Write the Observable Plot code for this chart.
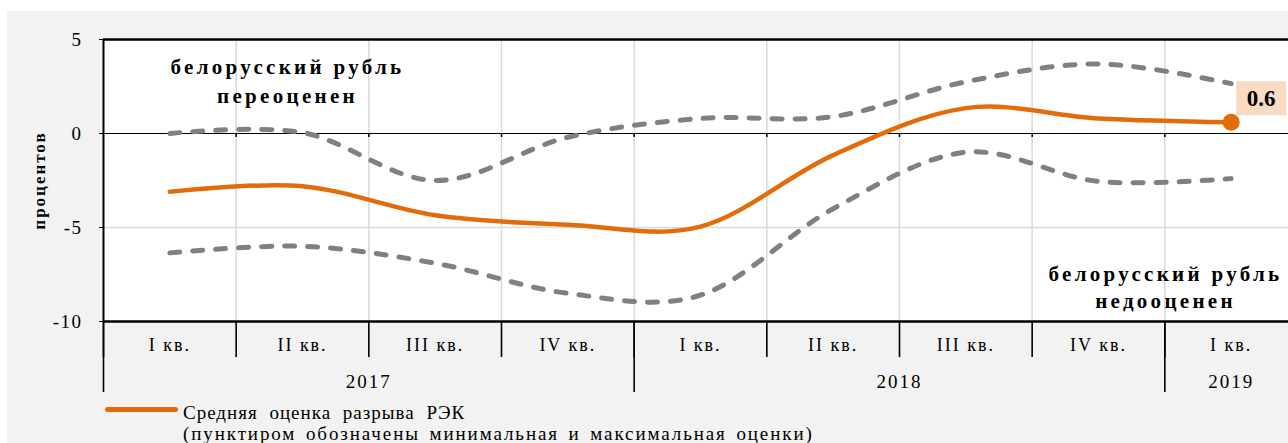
<!DOCTYPE html>
<html>
<head>
<meta charset="utf-8">
<script src="https://cdn.jsdelivr.net/npm/d3@7"></script>
<script src="https://cdn.jsdelivr.net/npm/@observablehq/plot@0.6"></script>
<style>
  html, body { margin: 0; padding: 0; background: #fff; overflow: hidden; width: 1288px; height: 443px; }
  #bg { position: absolute; left: 7px; top: 11px; right: 0; bottom: 0; background: #f2f2f2; }
  #chart { position: absolute; left: 0; top: 0; }
  #legend { position: absolute; left: 105px; top: 402px; font-family: "Liberation Serif", "Times New Roman", serif; font-size: 19px; color: #000; }
  #legend .row { position: relative; height: 21px; line-height: 21px; white-space: nowrap; }
  #legend .sw { position: absolute; left: 0; top: 5px; width: 73px; height: 5px; background: #e36c09; border-radius: 2.5px; }
  #legend .txt { margin-left: 78px; }
  #legend .l1 { letter-spacing: 1.0px; word-spacing: 6px; }
  #legend .l2 { letter-spacing: 1.9px; word-spacing: 3px; }
</style>
</head>
<body>
<div id="bg"></div>
<div id="chart"></div>
<div id="legend"></div>
<script>
// ---- data ----
const quarters = ["I кв.", "II кв.", "III кв.", "IV кв.", "I кв.", "II кв.", "III кв.", "IV кв.", "I кв."];
const years    = ["2017", "2017", "2017", "2017", "2018", "2018", "2018", "2018", "2019"];
const meanGap  = [-3.1, -2.8, -4.35, -4.85, -4.95, -1.15, 1.35, 0.8, 0.6];
const maxGap   = [0.0, 0.05, -2.5, -0.2, 0.8, 0.9, 2.75, 3.7, 2.65];
const minGap   = [-6.35, -6.0, -6.9, -8.5, -8.6, -4.0, -1.0, -2.55, -2.4];
const yTicks   = [5, 0, -5, -10];
const yTitle   = "процентов";
const overText  = "белорусский рубль\nпереоценен";
const underText = "белорусский рубль\nнедооценен";
const legendLine1 = "Средняя оценка разрыва РЭК";
const legendLine2 = "(пунктиром обозначены минимальная и максимальная оценки)";

// ---- derived tables ----
const rows = quarters.map((q, i) => ({i, q, year: years[i], mean: meanGap[i], max: maxGap[i], min: minGap[i]}));
const n = quarters.length;
const boundaries = d3.range(n + 1).map(k => k - 0.5);
const inner = boundaries.slice(1, -1);
const groups = d3.groups(rows, d => d.year);
const yearBoundaries = groups.map(([, g]) => g[0].i - 0.5).concat([n - 0.5]);
const yearCenters = groups.map(([, g]) => d3.mean(g, d => d.i));
const yearLabel = new Map(groups.map(([y, g]) => [d3.mean(g, d => d.i), y]));

const orange = "#e36c09";
const grey = "#808080";
const boxSymbol = {draw(ctx) { ctx.rect(-25, -17, 50, 34); }};

const plot = Plot.plot({
  width: 1300,
  height: 400,
  marginLeft: 103,
  marginRight: 3,
  marginTop: 39,
  marginBottom: 79,
  style: {background: "transparent", maxWidth: "none", overflow: "visible",
          fontFamily: "'Liberation Serif', 'Times New Roman', serif", fontSize: "18px", color: "#000"},
  x: {type: "linear", domain: [-0.5, n - 0.5], label: null},
  y: {domain: [-10, 5], label: null},
  marks: [
    Plot.frame({fill: "white", stroke: null}),
    Plot.gridX(inner, {stroke: "#d9d9d9", strokeOpacity: 1, strokeWidth: 1.5}),
    Plot.gridY([-5], {stroke: "#d9d9d9", strokeOpacity: 1, strokeWidth: 1.5}),
    Plot.ruleY([0], {stroke: "#000", strokeWidth: 1.2}),
    Plot.ruleX(inner, {y1: 0, y2: 0, insetBottom: -4, stroke: "#000", strokeWidth: 1.5}),
    Plot.axisX(boundaries, {tickSize: 36, tickFormat: () => "", strokeWidth: 1.6, label: null}),
    Plot.axisX(yearBoundaries, {tickSize: 71, tickFormat: () => "", strokeWidth: 1.6, label: null}),
    Plot.axisX(rows.map(d => d.i), {tickSize: 0, tickPadding: 17, tickFormat: i => quarters[i], fontSize: 18, label: null}),
    Plot.axisX(yearCenters, {tickSize: 0, tickPadding: 53, tickFormat: c => yearLabel.get(c), fontSize: 19, label: null}),
    Plot.axisY(yTicks, {tickSize: 4, tickPadding: 17, tickFormat: d => String(d), fontSize: 19, label: null}),
    Plot.ruleY([5], {stroke: "#000", strokeWidth: 2.5}),
    Plot.ruleY([-10], {stroke: "#000", strokeWidth: 2.5}),
    Plot.ruleX([-0.5], {stroke: "#000", strokeWidth: 2}),
    Plot.line(rows, {x: "i", y: "max", curve: "cardinal", stroke: grey, strokeWidth: 5, strokeDasharray: "10,13", strokeLinecap: "round"}),
    Plot.line(rows, {x: "i", y: "min", curve: "cardinal", stroke: grey, strokeWidth: 5, strokeDasharray: "10,13", strokeLinecap: "round"}),
    Plot.line(rows, {x: "i", y: "mean", curve: "cardinal", stroke: orange, strokeWidth: 4.5}),
    Plot.dot(rows, Plot.selectLast({x: "i", y: "mean", r: 8.5, fill: orange, stroke: null})),
    Plot.dot(rows, Plot.selectLast({x: "i", y: "mean", symbol: boxSymbol, r: 10, fill: "#f9dac3", stroke: null, dx: 30, dy: -24})),
    Plot.text(rows, Plot.selectLast({x: "i", y: "mean", text: d => d3.format(".1f")(d.mean), dx: 30, dy: -24, fontWeight: "bold", fontSize: 23, fill: "#000"})),
    Plot.text([overText], {text: d => d, frameAnchor: "top-left", dx: 184, dy: 40, textAnchor: "middle", lineAnchor: "middle", lineHeight: 1.35, fontWeight: "bold", fontSize: 21, fill: "#000"}),
    Plot.text([underText], {text: d => d, frameAnchor: "top-left", dx: 1062, dy: 246, textAnchor: "middle", lineAnchor: "middle", lineHeight: 1.3, fontWeight: "bold", fontSize: 21, fill: "#000"}),
    Plot.text([yTitle], {text: d => d, frameAnchor: "left", rotate: -90, dx: -64, textAnchor: "middle", fontWeight: "bold", fontSize: 17, fill: "#000"})
  ]
});

const sel = d3.select(plot);
sel.selectAll("text").filter(function() { return this.textContent.includes("рубль"); })
  .style("letter-spacing", "3.3px");
sel.selectAll("text").filter(function() { return this.textContent === yTitle; })
  .style("letter-spacing", "2px");
sel.selectAll("g[aria-label='x-axis tick label'] text").style("letter-spacing", "2px");
sel.selectAll("g[aria-label='y-axis tick label'] text").style("letter-spacing", "1.5px");
document.getElementById("chart").appendChild(plot);

const legend = d3.select("#legend");
const r1 = legend.append("div").attr("class", "row");
r1.append("div").attr("class", "sw");
r1.append("div").attr("class", "txt l1").text(legendLine1);
legend.append("div").attr("class", "row").append("div").attr("class", "txt l2").text(legendLine2);
</script>
</body>
</html>
